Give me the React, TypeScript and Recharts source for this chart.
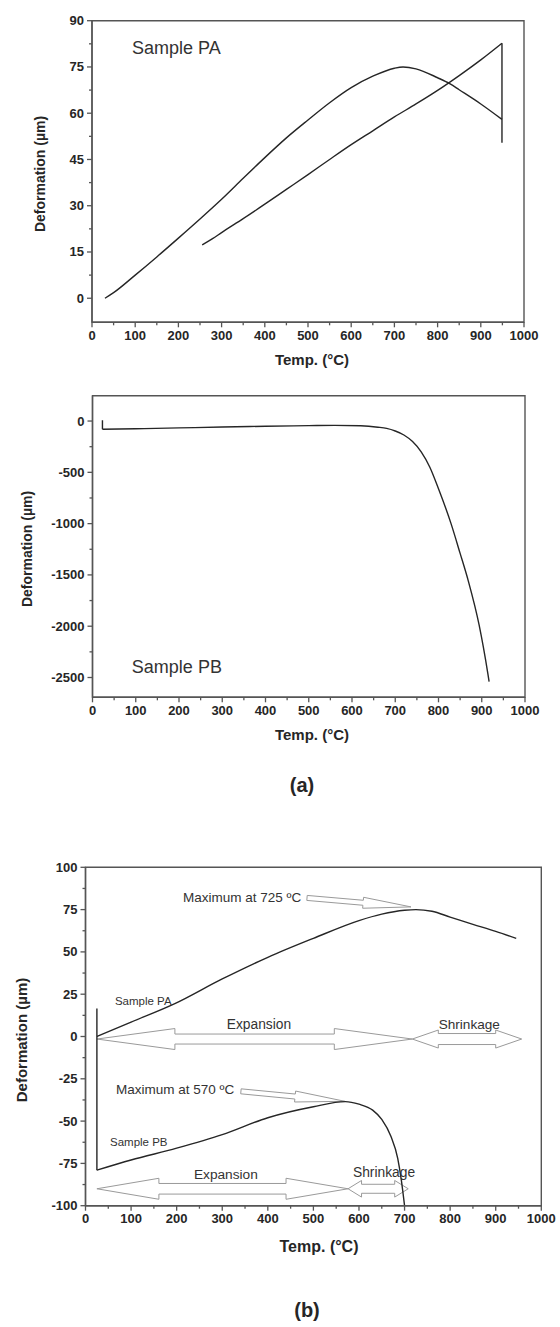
import React from 'react';
import { LineChart, Line, XAxis, YAxis, ReferenceArea, ReferenceLine, ReferenceDot } from 'recharts';

const FONT = '"Liberation Sans", Arial, Helvetica, sans-serif';
const AXIS = '#555';
const INK = '#262626';

// temperature axis, shared by the three panels (minor ticks every 50)
const tempTicks = [0, 50, 100, 150, 200, 250, 300, 350, 400, 450, 500, 550, 600, 650, 700, 750, 800, 850, 900, 950, 1000];

// (a) top: sample PA, heating run
const paHeatT = [30, 50, 100, 150, 200, 250, 300, 350, 400, 450, 500, 550, 600, 650, 700, 720, 750, 800, 829, 850, 900, 949];
const paHeatD = [0, 1.8, 7.5, 13.4, 19.5, 25.7, 32.1, 38.9, 45.6, 52, 57.8, 63.4, 68.3, 72, 74.6, 75, 74.4, 71.5, 69.5, 67.6, 63, 58];
// jump at the end of the run
const paDropT = [949, 949, 949];
const paDropD = [58, 50.4, 82.7];
// cooling run (ordered by temperature)
const paCoolT = [255, 280, 300, 350, 400, 450, 500, 550, 600, 650, 700, 750, 800, 850, 900, 949];
const paCoolD = [17.3, 19.4, 21.3, 25.8, 30.5, 35.3, 40.1, 45, 49.8, 54.3, 58.8, 63, 67.4, 72.2, 77.3, 82.7];
const paTicks = [0, 7.5, 15, 22.5, 30, 37.5, 45, 52.5, 60, 67.5, 75, 82.5, 90];

// (a) bottom: sample PB
const pbStepT = [23, 23];
const pbStepD = [8, -80];
const pbT = [23, 100, 200, 300, 400, 500, 560, 620, 660, 680, 700, 720, 740, 760, 780, 800, 829, 850, 869, 894, 914, 917];
const pbD = [-80, -75, -67, -58, -51, -45, -42, -46, -60, -72, -97, -136, -200, -300, -450, -660, -1000, -1290, -1560, -1990, -2460, -2541];
const pbTicks = [-2500, -2250, -2000, -1750, -1500, -1250, -1000, -750, -500, -250, 0];

// (b): both samples on one scale
const bPaT = [25, 100, 196, 300, 400, 500, 600, 650, 700, 725, 760, 800, 850, 900, 945];
const bPaD = [0, 8.5, 19.4, 34, 46.8, 58, 68.5, 72.3, 74.6, 75, 74, 70.6, 66.3, 62.1, 58];
const bPbStepT = [25, 25];
const bPbStepD = [16.5, -79];
const bPbT = [25, 100, 200, 300, 400, 500, 570, 600, 630, 650, 670, 685, 693, 700];
const bPbD = [-79, -73, -66, -58, -48, -41.5, -38.5, -40, -43.5, -49, -59, -72, -85, -100];
const bTicks = [-100, -87.5, -75, -62.5, -50, -37.5, -25, -12.5, 0, 12.5, 25, 37.5, 50, 62.5, 75, 87.5, 100];

const zip = (t: number[], d: number[]) => t.map((v, i) => ({ t: v, d: d[i] }));

const xTick = (props: any) => {
  const { x, y, payload } = props;
  const major = payload.value % 100 === 0;
  return (
    <g>
      <line x1={x} x2={x} y1={y} y2={y + (major ? 5 : 3)} stroke={AXIS} strokeWidth={1.3} />
      {major && (
        <text x={x} y={y + 17.5} textAnchor="middle" fontSize={13} fontWeight="bold" fill={INK} fontFamily={FONT}>
          {payload.value}
        </text>
      )}
    </g>
  );
};

const yTick = (step: number) => (props: any) => {
  const { x, y, payload } = props;
  const major = Math.abs(payload.value % step) < 1e-6;
  return (
    <g>
      <line x1={x} x2={x - (major ? 5 : 3)} y1={y} y2={y} stroke={AXIS} strokeWidth={1.3} />
      {major && (
        <text x={x - 8} y={y + 4.5} textAnchor="end" fontSize={13} fontWeight="bold" fill={INK} fontFamily={FONT}>
          {payload.value}
        </text>
      )}
    </g>
  );
};

// outlined block arrow drawn along a reference segment
const arrow = (shaft: number, head: number, len: number, double: boolean) => (p: any) => {
  const { x1, y1, x2, y2 } = p;
  const L = Math.hypot(x2 - x1, y2 - y1) || 1;
  const ux = (x2 - x1) / L;
  const uy = (y2 - y1) / L;
  const nx = -uy;
  const ny = ux;
  const pt = (bx: number, by: number, k: number) => `${bx + nx * k},${by + ny * k}`;
  const rx = x2 - ux * len;
  const ry = y2 - uy * len;
  let pts: string[];
  if (double) {
    const lx = x1 + ux * len;
    const ly = y1 + uy * len;
    pts = [`${x1},${y1}`, pt(lx, ly, -head), pt(lx, ly, -shaft), pt(rx, ry, -shaft), pt(rx, ry, -head), `${x2},${y2}`,
      pt(rx, ry, head), pt(rx, ry, shaft), pt(lx, ly, shaft), pt(lx, ly, head)];
  } else {
    pts = [pt(x1, y1, -shaft), pt(rx, ry, -shaft), pt(rx, ry, -head), `${x2},${y2}`, pt(rx, ry, head), pt(rx, ry, shaft), pt(x1, y1, shaft)];
  }
  return <polygon points={pts.join(' ')} fill="none" stroke="#9a9a9a" strokeWidth={1} />;
};

const note = (text: string, size: number, anchor: 'start' | 'middle') => (p: any) => (
  <text x={p.cx} y={p.cy} textAnchor={anchor} dominantBaseline="central" fontSize={size} fill="#333" fontFamily={FONT}>
    {text}
  </text>
);

const Title = ({ x, y, size, text, rotate }: { x: number; y: number; size: number; text: string; rotate?: boolean }) => (
  <div
    style={{
      position: 'absolute',
      left: x,
      top: y,
      transform: `translate(-50%, -50%)${rotate ? ' rotate(-90deg)' : ''}`,
      fontFamily: FONT,
      fontWeight: 'bold',
      fontSize: size,
      color: INK,
      whiteSpace: 'nowrap',
    }}
  >
    {text}
  </div>
);

const lineProps = { type: 'monotone' as const, dataKey: 'd', stroke: INK, strokeWidth: 1.4, dot: false, isAnimationActive: false };
const stepProps = { ...lineProps, type: 'linear' as const };

export default function App() {
  return (
    <div style={{ position: 'absolute', left: 0, top: 0, width: 560, height: 1327, background: '#fff', fontFamily: FONT }}>
      {/* (a) sample PA */}
      <div style={{ position: 'absolute', left: 0, top: 0 }}>
        <LineChart width={560} height={345} margin={{ top: 20.7, right: 36, left: 52, bottom: 2.7 }}>
          <XAxis type="number" dataKey="t" domain={[0, 1000]} ticks={tempTicks} interval={0} tick={xTick} tickSize={0} tickMargin={0} tickLine={false} height={20} axisLine={{ stroke: AXIS, strokeWidth: 1.4 }} allowDataOverflow />
          <YAxis type="number" domain={[-7.8, 90]} ticks={paTicks} interval={0} tick={yTick(15)} tickSize={0} tickMargin={0} tickLine={false} width={40} axisLine={{ stroke: AXIS, strokeWidth: 1.4 }} allowDataOverflow />
          <ReferenceArea x1={0} x2={1000} y1={-7.8} y2={90} fill="none" stroke={AXIS} strokeWidth={1.4} ifOverflow="visible" />
          <Line {...lineProps} data={zip(paHeatT, paHeatD)} />
          <Line {...stepProps} data={zip(paDropT, paDropD)} />
          <Line {...lineProps} data={zip(paCoolT, paCoolD)} />
          <ReferenceDot x={92.6} y={81} r={0} ifOverflow="visible" shape={note('Sample PA', 18, 'start')} />
        </LineChart>
      </div>
      <Title x={312} y={358.5} size={15} text="Temp. (°C)" />
      <Title x={40} y={173.5} size={14} text="Deformation (µm)" rotate />

      {/* (a) sample PB */}
      <div style={{ position: 'absolute', left: 0, top: 380 }}>
        <LineChart width={560} height={340} margin={{ top: 15.7, right: 35, left: 52.5, bottom: 2.7 }}>
          <XAxis type="number" dataKey="t" domain={[0, 1000]} ticks={tempTicks} interval={0} tick={xTick} tickSize={0} tickMargin={0} tickLine={false} height={20} axisLine={{ stroke: AXIS, strokeWidth: 1.4 }} allowDataOverflow />
          <YAxis type="number" domain={[-2693, 247]} ticks={pbTicks} interval={0} tick={yTick(500)} tickSize={0} tickMargin={0} tickLine={false} width={40} axisLine={{ stroke: AXIS, strokeWidth: 1.4 }} allowDataOverflow />
          <ReferenceArea x1={0} x2={1000} y1={-2693} y2={247} fill="none" stroke={AXIS} strokeWidth={1.4} ifOverflow="visible" />
          <Line {...stepProps} data={zip(pbStepT, pbStepD)} />
          <Line {...lineProps} data={zip(pbT, pbD)} />
          <ReferenceDot x={91} y={-2395} r={0} ifOverflow="visible" shape={note('Sample PB', 18, 'start')} />
        </LineChart>
      </div>
      <Title x={312} y={734} size={15} text="Temp. (°C)" />
      <Title x={27} y={549} size={14} text="Deformation (µm)" rotate />
      <Title x={302} y={785} size={20} text="(a)" />

      {/* (b) */}
      <div style={{ position: 'absolute', left: 0, top: 850 }}>
        <LineChart width={560} height={380} margin={{ top: 17.3, right: 18.7, left: 45.5, bottom: 4.3 }}>
          <XAxis type="number" dataKey="t" domain={[0, 1000]} ticks={tempTicks} interval={0} tick={xTick} tickSize={0} tickMargin={0} tickLine={false} height={20} axisLine={{ stroke: AXIS, strokeWidth: 1.4 }} allowDataOverflow />
          <YAxis type="number" domain={[-100, 100]} ticks={bTicks} interval={0} tick={yTick(25)} tickSize={0} tickMargin={0} tickLine={false} width={40} axisLine={{ stroke: AXIS, strokeWidth: 1.4 }} allowDataOverflow />
          <ReferenceArea x1={0} x2={1000} y1={-100} y2={100} fill="none" stroke={AXIS} strokeWidth={1.4} ifOverflow="visible" />
          <ReferenceLine segment={[{ x: 25, y: -1.5 }, { x: 717, y: -1.5 }]} ifOverflow="visible" shape={arrow(5, 10.5, 78, true)} />
          <ReferenceLine segment={[{ x: 717, y: -1.5 }, { x: 957, y: -1.5 }]} ifOverflow="visible" shape={arrow(5.5, 9, 26, true)} />
          <ReferenceLine segment={[{ x: 25, y: -90 }, { x: 576, y: -90 }]} ifOverflow="visible" shape={arrow(5.3, 10.5, 62, true)} />
          <ReferenceLine segment={[{ x: 576, y: -90 }, { x: 708, y: -90 }]} ifOverflow="visible" shape={arrow(4.5, 8.3, 13.5, true)} />
          <ReferenceLine segment={[{ x: 486, y: 81.9 }, { x: 714, y: 76.6 }]} ifOverflow="visible" shape={arrow(2.5, 5.5, 48, false)} />
          <ReferenceLine segment={[{ x: 341, y: -32.4 }, { x: 569, y: -38.3 }]} ifOverflow="visible" shape={arrow(2.5, 5.5, 50, false)} />
          <Line {...lineProps} data={zip(bPaT, bPaD)} />
          <Line {...stepProps} data={zip(bPbStepT, bPbStepD)} />
          <Line {...lineProps} data={zip(bPbT, bPbD)} />
          <ReferenceDot x={214} y={81.9} r={0} ifOverflow="visible" shape={note('Maximum at 725 ºC', 13.5, 'start')} />
          <ReferenceDot x={64.6} y={20.9} r={0} ifOverflow="visible" shape={note('Sample PA', 11.5, 'start')} />
          <ReferenceDot x={380.6} y={7.1} r={0} ifOverflow="visible" shape={note('Expansion', 13.8, 'middle')} />
          <ReferenceDot x={842} y={7.1} r={0} ifOverflow="visible" shape={note('Shrinkage', 13.6, 'middle')} />
          <ReferenceDot x={67} y={-31.6} r={0} ifOverflow="visible" shape={note('Maximum at 570 ºC', 13.5, 'start')} />
          <ReferenceDot x={53.8} y={-62.6} r={0} ifOverflow="visible" shape={note('Sample PB', 11.5, 'start')} />
          <ReferenceDot x={308} y={-81.3} r={0} ifOverflow="visible" shape={note('Expansion', 13.7, 'middle')} />
          <ReferenceDot x={655} y={-80.4} r={0} ifOverflow="visible" shape={note('Shrinkage', 13.8, 'middle')} />
        </LineChart>
      </div>
      <Title x={319} y={1246.7} size={16} text="Temp. (°C)" />
      <Title x={20.5} y={1040} size={15} text="Deformation (µm)" rotate />
      <Title x={307} y={1310} size={20} text="(b)" />
    </div>
  );
}
